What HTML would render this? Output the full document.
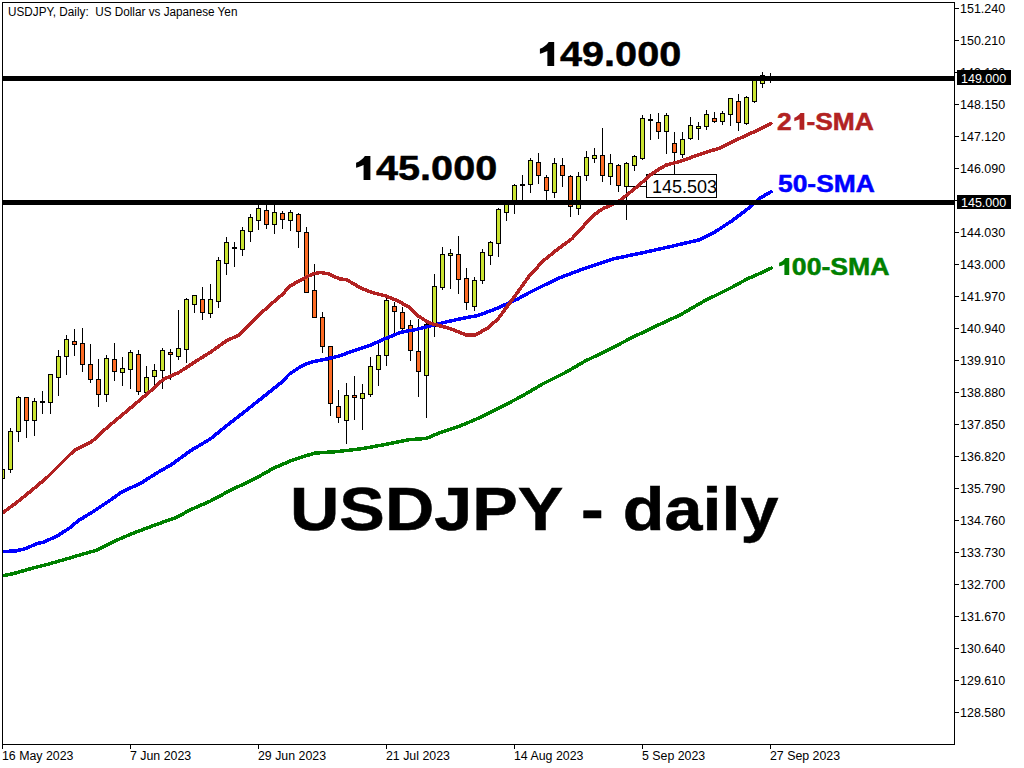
<!DOCTYPE html>
<html><head><meta charset="utf-8">
<style>
html,body{margin:0;padding:0;background:#fff;}
body{width:1024px;height:768px;position:relative;overflow:hidden;font-family:"Liberation Sans",sans-serif;}
.yl{position:absolute;left:960px;font-size:12px;line-height:16px;color:#000;white-space:nowrap;transform:scaleX(1.04);transform-origin:0 0;}
.xl{position:absolute;top:748px;font-size:12px;line-height:16px;color:#000;white-space:nowrap;transform:scaleX(1.03);transform-origin:0 0;}
.big{position:absolute;font-weight:bold;color:#000;white-space:nowrap;transform-origin:0 0;-webkit-text-stroke:0.5px currentColor;}
.h1{color:transparent;-webkit-text-stroke-color:transparent;}
.box{position:absolute;background:#000;color:#fff;font-size:12px;line-height:14px;height:14px;white-space:nowrap;}
</style></head><body>

<svg width="1024" height="768" viewBox="0 0 1024 768" style="position:absolute;left:0;top:0" shape-rendering="crispEdges">
<defs><clipPath id="cp"><rect x="3" y="3" width="951" height="741"/></clipPath></defs>
<rect x="2" y="2" width="953" height="743" fill="none" stroke="none"/>
<g clip-path="url(#cp)">
<rect x="2" y="466" width="1" height="15" fill="#000"/>
<rect x="0" y="469" width="5" height="10" fill="#000"/>
<rect x="1" y="470" width="3" height="8" fill="#c9e331"/>
<rect x="10" y="428" width="1" height="45" fill="#000"/>
<rect x="8" y="431" width="5" height="39" fill="#000"/>
<rect x="9" y="432" width="3" height="37" fill="#c9e331"/>
<rect x="18" y="396" width="1" height="46" fill="#000"/>
<rect x="16" y="397" width="5" height="35" fill="#000"/>
<rect x="17" y="398" width="3" height="33" fill="#c9e331"/>
<rect x="26" y="397" width="1" height="41" fill="#000"/>
<rect x="24" y="397" width="5" height="24" fill="#000"/>
<rect x="25" y="398" width="3" height="22" fill="#fc6b24"/>
<rect x="34" y="398" width="1" height="38" fill="#000"/>
<rect x="32" y="401" width="5" height="20" fill="#000"/>
<rect x="33" y="402" width="3" height="18" fill="#c9e331"/>
<rect x="42" y="391" width="1" height="23" fill="#000"/>
<rect x="40" y="401" width="5" height="2" fill="#000"/>
<rect x="50" y="374" width="1" height="40" fill="#000"/>
<rect x="48" y="374" width="5" height="29" fill="#000"/>
<rect x="49" y="375" width="3" height="27" fill="#c9e331"/>
<rect x="58" y="350" width="1" height="46" fill="#000"/>
<rect x="56" y="356" width="5" height="22" fill="#000"/>
<rect x="57" y="357" width="3" height="20" fill="#c9e331"/>
<rect x="66" y="335" width="1" height="40" fill="#000"/>
<rect x="64" y="339" width="5" height="18" fill="#000"/>
<rect x="65" y="340" width="3" height="16" fill="#c9e331"/>
<rect x="74" y="329" width="1" height="27" fill="#000"/>
<rect x="72" y="341" width="5" height="4" fill="#000"/>
<rect x="73" y="342" width="3" height="2" fill="#fc6b24"/>
<rect x="82" y="328" width="1" height="44" fill="#000"/>
<rect x="80" y="343" width="5" height="22" fill="#000"/>
<rect x="81" y="344" width="3" height="20" fill="#fc6b24"/>
<rect x="90" y="344" width="1" height="39" fill="#000"/>
<rect x="88" y="364" width="5" height="16" fill="#000"/>
<rect x="89" y="365" width="3" height="14" fill="#fc6b24"/>
<rect x="98" y="359" width="1" height="48" fill="#000"/>
<rect x="96" y="379" width="5" height="16" fill="#000"/>
<rect x="97" y="380" width="3" height="14" fill="#fc6b24"/>
<rect x="106" y="355" width="1" height="47" fill="#000"/>
<rect x="104" y="358" width="5" height="37" fill="#000"/>
<rect x="105" y="359" width="3" height="35" fill="#c9e331"/>
<rect x="114" y="343" width="1" height="38" fill="#000"/>
<rect x="112" y="359" width="5" height="13" fill="#000"/>
<rect x="113" y="360" width="3" height="11" fill="#fc6b24"/>
<rect x="122" y="357" width="1" height="29" fill="#000"/>
<rect x="120" y="368" width="5" height="5" fill="#000"/>
<rect x="121" y="369" width="3" height="3" fill="#c9e331"/>
<rect x="130" y="350" width="1" height="39" fill="#000"/>
<rect x="128" y="352" width="5" height="18" fill="#000"/>
<rect x="129" y="353" width="3" height="16" fill="#c9e331"/>
<rect x="138" y="350" width="1" height="45" fill="#000"/>
<rect x="136" y="354" width="5" height="38" fill="#000"/>
<rect x="137" y="355" width="3" height="36" fill="#fc6b24"/>
<rect x="146" y="366" width="1" height="31" fill="#000"/>
<rect x="144" y="377" width="5" height="16" fill="#000"/>
<rect x="145" y="378" width="3" height="14" fill="#c9e331"/>
<rect x="154" y="364" width="1" height="23" fill="#000"/>
<rect x="152" y="370" width="5" height="7" fill="#000"/>
<rect x="153" y="371" width="3" height="5" fill="#c9e331"/>
<rect x="162" y="348" width="1" height="41" fill="#000"/>
<rect x="160" y="350" width="5" height="21" fill="#000"/>
<rect x="161" y="351" width="3" height="19" fill="#c9e331"/>
<rect x="170" y="349" width="1" height="31" fill="#000"/>
<rect x="168" y="352" width="5" height="3" fill="#000"/>
<rect x="169" y="353" width="3" height="1" fill="#fc6b24"/>
<rect x="178" y="310" width="1" height="50" fill="#000"/>
<rect x="176" y="348" width="5" height="9" fill="#000"/>
<rect x="177" y="349" width="3" height="7" fill="#c9e331"/>
<rect x="186" y="298" width="1" height="65" fill="#000"/>
<rect x="184" y="299" width="5" height="51" fill="#000"/>
<rect x="185" y="300" width="3" height="49" fill="#c9e331"/>
<rect x="194" y="295" width="1" height="18" fill="#000"/>
<rect x="192" y="295" width="5" height="10" fill="#000"/>
<rect x="193" y="296" width="3" height="8" fill="#c9e331"/>
<rect x="202" y="287" width="1" height="33" fill="#000"/>
<rect x="200" y="299" width="5" height="14" fill="#000"/>
<rect x="201" y="300" width="3" height="12" fill="#fc6b24"/>
<rect x="210" y="284" width="1" height="34" fill="#000"/>
<rect x="208" y="299" width="5" height="15" fill="#000"/>
<rect x="209" y="300" width="3" height="13" fill="#c9e331"/>
<rect x="218" y="257" width="1" height="51" fill="#000"/>
<rect x="216" y="260" width="5" height="42" fill="#000"/>
<rect x="217" y="261" width="3" height="40" fill="#c9e331"/>
<rect x="226" y="237" width="1" height="38" fill="#000"/>
<rect x="224" y="242" width="5" height="22" fill="#000"/>
<rect x="225" y="243" width="3" height="20" fill="#c9e331"/>
<rect x="234" y="242" width="1" height="25" fill="#000"/>
<rect x="232" y="247" width="5" height="2" fill="#000"/>
<rect x="242" y="227" width="1" height="29" fill="#000"/>
<rect x="240" y="230" width="5" height="20" fill="#000"/>
<rect x="241" y="231" width="3" height="18" fill="#c9e331"/>
<rect x="250" y="214" width="1" height="28" fill="#000"/>
<rect x="248" y="217" width="5" height="15" fill="#000"/>
<rect x="249" y="218" width="3" height="13" fill="#c9e331"/>
<rect x="258" y="204" width="1" height="26" fill="#000"/>
<rect x="256" y="208" width="5" height="13" fill="#000"/>
<rect x="257" y="209" width="3" height="11" fill="#c9e331"/>
<rect x="266" y="200" width="1" height="29" fill="#000"/>
<rect x="264" y="210" width="5" height="15" fill="#000"/>
<rect x="265" y="211" width="3" height="13" fill="#fc6b24"/>
<rect x="274" y="200" width="1" height="34" fill="#000"/>
<rect x="272" y="212" width="5" height="13" fill="#000"/>
<rect x="273" y="213" width="3" height="11" fill="#c9e331"/>
<rect x="282" y="211" width="1" height="18" fill="#000"/>
<rect x="280" y="213" width="5" height="7" fill="#000"/>
<rect x="281" y="214" width="3" height="5" fill="#fc6b24"/>
<rect x="290" y="210" width="1" height="21" fill="#000"/>
<rect x="288" y="212" width="5" height="9" fill="#000"/>
<rect x="289" y="213" width="3" height="7" fill="#c9e331"/>
<rect x="298" y="213" width="1" height="35" fill="#000"/>
<rect x="296" y="214" width="5" height="18" fill="#000"/>
<rect x="297" y="215" width="3" height="16" fill="#fc6b24"/>
<rect x="306" y="227" width="1" height="66" fill="#000"/>
<rect x="304" y="232" width="5" height="61" fill="#000"/>
<rect x="305" y="233" width="3" height="59" fill="#fc6b24"/>
<rect x="314" y="264" width="1" height="54" fill="#000"/>
<rect x="312" y="290" width="5" height="28" fill="#000"/>
<rect x="313" y="291" width="3" height="26" fill="#fc6b24"/>
<rect x="322" y="312" width="1" height="41" fill="#000"/>
<rect x="320" y="317" width="5" height="30" fill="#000"/>
<rect x="321" y="318" width="3" height="28" fill="#fc6b24"/>
<rect x="330" y="346" width="1" height="70" fill="#000"/>
<rect x="328" y="346" width="5" height="58" fill="#000"/>
<rect x="329" y="347" width="3" height="56" fill="#fc6b24"/>
<rect x="338" y="390" width="1" height="33" fill="#000"/>
<rect x="336" y="406" width="5" height="12" fill="#000"/>
<rect x="337" y="407" width="3" height="10" fill="#fc6b24"/>
<rect x="346" y="383" width="1" height="61" fill="#000"/>
<rect x="344" y="395" width="5" height="26" fill="#000"/>
<rect x="345" y="396" width="3" height="24" fill="#c9e331"/>
<rect x="354" y="376" width="1" height="44" fill="#000"/>
<rect x="352" y="395" width="5" height="3" fill="#000"/>
<rect x="353" y="396" width="3" height="1" fill="#fc6b24"/>
<rect x="362" y="384" width="1" height="46" fill="#000"/>
<rect x="360" y="393" width="5" height="6" fill="#000"/>
<rect x="361" y="394" width="3" height="4" fill="#c9e331"/>
<rect x="370" y="357" width="1" height="40" fill="#000"/>
<rect x="368" y="366" width="5" height="29" fill="#000"/>
<rect x="369" y="367" width="3" height="27" fill="#c9e331"/>
<rect x="378" y="343" width="1" height="43" fill="#000"/>
<rect x="376" y="355" width="5" height="15" fill="#000"/>
<rect x="377" y="356" width="3" height="13" fill="#c9e331"/>
<rect x="386" y="298" width="1" height="68" fill="#000"/>
<rect x="384" y="300" width="5" height="56" fill="#000"/>
<rect x="385" y="301" width="3" height="54" fill="#c9e331"/>
<rect x="394" y="302" width="1" height="31" fill="#000"/>
<rect x="392" y="306" width="5" height="6" fill="#000"/>
<rect x="393" y="307" width="3" height="4" fill="#fc6b24"/>
<rect x="402" y="307" width="1" height="25" fill="#000"/>
<rect x="400" y="312" width="5" height="17" fill="#000"/>
<rect x="401" y="313" width="3" height="15" fill="#fc6b24"/>
<rect x="410" y="320" width="1" height="41" fill="#000"/>
<rect x="408" y="325" width="5" height="26" fill="#000"/>
<rect x="409" y="326" width="3" height="24" fill="#fc6b24"/>
<rect x="418" y="319" width="1" height="78" fill="#000"/>
<rect x="416" y="351" width="5" height="21" fill="#000"/>
<rect x="417" y="352" width="3" height="19" fill="#fc6b24"/>
<rect x="426" y="321" width="1" height="97" fill="#000"/>
<rect x="424" y="324" width="5" height="52" fill="#000"/>
<rect x="425" y="325" width="3" height="50" fill="#c9e331"/>
<rect x="434" y="274" width="1" height="63" fill="#000"/>
<rect x="432" y="286" width="5" height="41" fill="#000"/>
<rect x="433" y="287" width="3" height="39" fill="#c9e331"/>
<rect x="442" y="247" width="1" height="43" fill="#000"/>
<rect x="440" y="254" width="5" height="34" fill="#000"/>
<rect x="441" y="255" width="3" height="32" fill="#c9e331"/>
<rect x="450" y="249" width="1" height="40" fill="#000"/>
<rect x="448" y="253" width="5" height="3" fill="#000"/>
<rect x="449" y="254" width="3" height="1" fill="#c9e331"/>
<rect x="458" y="236" width="1" height="58" fill="#000"/>
<rect x="456" y="254" width="5" height="26" fill="#000"/>
<rect x="457" y="255" width="3" height="24" fill="#fc6b24"/>
<rect x="466" y="268" width="1" height="42" fill="#000"/>
<rect x="464" y="278" width="5" height="25" fill="#000"/>
<rect x="465" y="279" width="3" height="23" fill="#fc6b24"/>
<rect x="474" y="277" width="1" height="34" fill="#000"/>
<rect x="472" y="280" width="5" height="27" fill="#000"/>
<rect x="473" y="281" width="3" height="25" fill="#c9e331"/>
<rect x="482" y="249" width="1" height="35" fill="#000"/>
<rect x="480" y="252" width="5" height="29" fill="#000"/>
<rect x="481" y="253" width="3" height="27" fill="#c9e331"/>
<rect x="490" y="241" width="1" height="24" fill="#000"/>
<rect x="488" y="242" width="5" height="14" fill="#000"/>
<rect x="489" y="243" width="3" height="12" fill="#c9e331"/>
<rect x="498" y="208" width="1" height="49" fill="#000"/>
<rect x="496" y="209" width="5" height="35" fill="#000"/>
<rect x="497" y="210" width="3" height="33" fill="#c9e331"/>
<rect x="506" y="201" width="1" height="20" fill="#000"/>
<rect x="504" y="201" width="5" height="12" fill="#000"/>
<rect x="505" y="202" width="3" height="10" fill="#c9e331"/>
<rect x="514" y="184" width="1" height="30" fill="#000"/>
<rect x="512" y="185" width="5" height="20" fill="#000"/>
<rect x="513" y="186" width="3" height="18" fill="#c9e331"/>
<rect x="522" y="175" width="1" height="26" fill="#000"/>
<rect x="520" y="184" width="5" height="2" fill="#000"/>
<rect x="530" y="158" width="1" height="35" fill="#000"/>
<rect x="528" y="160" width="5" height="25" fill="#000"/>
<rect x="529" y="161" width="3" height="23" fill="#c9e331"/>
<rect x="538" y="153" width="1" height="31" fill="#000"/>
<rect x="536" y="162" width="5" height="14" fill="#000"/>
<rect x="537" y="163" width="3" height="12" fill="#fc6b24"/>
<rect x="546" y="175" width="1" height="27" fill="#000"/>
<rect x="544" y="177" width="5" height="14" fill="#000"/>
<rect x="545" y="178" width="3" height="12" fill="#fc6b24"/>
<rect x="554" y="158" width="1" height="40" fill="#000"/>
<rect x="552" y="163" width="5" height="30" fill="#000"/>
<rect x="553" y="164" width="3" height="28" fill="#c9e331"/>
<rect x="562" y="158" width="1" height="29" fill="#000"/>
<rect x="560" y="165" width="5" height="11" fill="#000"/>
<rect x="561" y="166" width="3" height="9" fill="#fc6b24"/>
<rect x="570" y="175" width="1" height="42" fill="#000"/>
<rect x="568" y="176" width="5" height="31" fill="#000"/>
<rect x="569" y="177" width="3" height="29" fill="#fc6b24"/>
<rect x="578" y="172" width="1" height="43" fill="#000"/>
<rect x="576" y="176" width="5" height="33" fill="#000"/>
<rect x="577" y="177" width="3" height="31" fill="#c9e331"/>
<rect x="586" y="151" width="1" height="30" fill="#000"/>
<rect x="584" y="157" width="5" height="19" fill="#000"/>
<rect x="585" y="158" width="3" height="17" fill="#c9e331"/>
<rect x="594" y="148" width="1" height="15" fill="#000"/>
<rect x="592" y="155" width="5" height="4" fill="#000"/>
<rect x="593" y="156" width="3" height="2" fill="#c9e331"/>
<rect x="602" y="128" width="1" height="54" fill="#000"/>
<rect x="600" y="155" width="5" height="21" fill="#000"/>
<rect x="601" y="156" width="3" height="19" fill="#fc6b24"/>
<rect x="610" y="154" width="1" height="31" fill="#000"/>
<rect x="608" y="163" width="5" height="14" fill="#000"/>
<rect x="609" y="164" width="3" height="12" fill="#c9e331"/>
<rect x="618" y="164" width="1" height="28" fill="#000"/>
<rect x="616" y="165" width="5" height="21" fill="#000"/>
<rect x="617" y="166" width="3" height="19" fill="#fc6b24"/>
<rect x="626" y="162" width="1" height="58" fill="#000"/>
<rect x="624" y="163" width="5" height="24" fill="#000"/>
<rect x="625" y="164" width="3" height="22" fill="#c9e331"/>
<rect x="634" y="155" width="1" height="16" fill="#000"/>
<rect x="632" y="156" width="5" height="10" fill="#000"/>
<rect x="633" y="157" width="3" height="8" fill="#c9e331"/>
<rect x="642" y="115" width="1" height="45" fill="#000"/>
<rect x="640" y="118" width="5" height="41" fill="#000"/>
<rect x="641" y="119" width="3" height="39" fill="#c9e331"/>
<rect x="650" y="114" width="1" height="26" fill="#000"/>
<rect x="648" y="119" width="5" height="2" fill="#000"/>
<rect x="658" y="113" width="1" height="26" fill="#000"/>
<rect x="656" y="122" width="5" height="10" fill="#000"/>
<rect x="657" y="123" width="3" height="8" fill="#fc6b24"/>
<rect x="666" y="113" width="1" height="41" fill="#000"/>
<rect x="664" y="115" width="5" height="17" fill="#000"/>
<rect x="665" y="116" width="3" height="15" fill="#c9e331"/>
<rect x="674" y="132" width="1" height="43" fill="#000"/>
<rect x="672" y="143" width="5" height="10" fill="#000"/>
<rect x="673" y="144" width="3" height="8" fill="#fc6b24"/>
<rect x="682" y="132" width="1" height="26" fill="#000"/>
<rect x="680" y="139" width="5" height="16" fill="#000"/>
<rect x="681" y="140" width="3" height="14" fill="#c9e331"/>
<rect x="690" y="117" width="1" height="23" fill="#000"/>
<rect x="688" y="125" width="5" height="14" fill="#000"/>
<rect x="689" y="126" width="3" height="12" fill="#c9e331"/>
<rect x="698" y="122" width="1" height="18" fill="#000"/>
<rect x="696" y="126" width="5" height="3" fill="#000"/>
<rect x="697" y="127" width="3" height="1" fill="#c9e331"/>
<rect x="706" y="110" width="1" height="20" fill="#000"/>
<rect x="704" y="114" width="5" height="13" fill="#000"/>
<rect x="705" y="115" width="3" height="11" fill="#c9e331"/>
<rect x="714" y="112" width="1" height="11" fill="#000"/>
<rect x="712" y="118" width="5" height="4" fill="#000"/>
<rect x="713" y="119" width="3" height="2" fill="#fc6b24"/>
<rect x="722" y="111" width="1" height="14" fill="#000"/>
<rect x="720" y="113" width="5" height="9" fill="#000"/>
<rect x="721" y="114" width="3" height="7" fill="#c9e331"/>
<rect x="730" y="98" width="1" height="28" fill="#000"/>
<rect x="728" y="98" width="5" height="17" fill="#000"/>
<rect x="729" y="99" width="3" height="15" fill="#c9e331"/>
<rect x="738" y="94" width="1" height="37" fill="#000"/>
<rect x="736" y="101" width="5" height="22" fill="#000"/>
<rect x="737" y="102" width="3" height="20" fill="#fc6b24"/>
<rect x="746" y="96" width="1" height="29" fill="#000"/>
<rect x="744" y="97" width="5" height="27" fill="#000"/>
<rect x="745" y="98" width="3" height="25" fill="#c9e331"/>
<rect x="754" y="78" width="1" height="25" fill="#000"/>
<rect x="752" y="78" width="5" height="24" fill="#000"/>
<rect x="753" y="79" width="3" height="22" fill="#c9e331"/>
<rect x="762" y="72" width="1" height="16" fill="#000"/>
<rect x="760" y="75" width="5" height="9" fill="#000"/>
<rect x="761" y="76" width="3" height="7" fill="#c9e331"/>
<rect x="770" y="73" width="1" height="10" fill="#000"/>
<rect x="768" y="78" width="5" height="2" fill="#000"/>
<rect x="628" y="186" width="18" height="1" fill="#000"/>
<rect x="646" y="174" width="71" height="24" fill="#fff" stroke="none"/>
<rect x="646" y="174" width="71" height="1" fill="#000"/>
<rect x="646" y="197" width="71" height="1" fill="#000"/>
<rect x="646" y="174" width="1" height="24" fill="#000"/>
<rect x="716" y="174" width="1" height="24" fill="#000"/>
<polyline points="2.6,575.3 13.0,573.2 31.2,568.0 46.9,564.0 65.1,558.9 78.1,555.0 96.4,549.7 114.6,540.6 132.8,532.8 153.6,525.0 177.0,516.7 190.0,509.5 210.3,500.6 230.6,489.7 253.5,479.0 273.8,467.6 291.6,460.0 314.4,452.6 337.3,451.1 362.7,448.1 388.0,443.5 408.4,439.3 426.2,437.9 440.0,432.2 463.4,424.2 482.2,416.0 500.9,406.6 522.0,395.6 543.1,383.2 564.2,372.7 585.3,360.5 608.7,349.2 632.2,337.0 655.6,325.8 680.0,314.5 706.2,299.4 715.6,295.0 731.2,287.2 746.9,278.6 759.4,273.1 771.1,267.7" fill="none" stroke="#008000" stroke-width="3.5" stroke-linejoin="round" stroke-linecap="round" transform="translate(0,0.5)"/>
<polyline points="2.6,551.0 15.6,550.5 26.0,548.0 36.5,543.2 44.3,541.4 57.3,535.4 70.3,527.0 78.1,520.3 93.8,510.7 109.4,500.3 122.4,491.1 140.6,482.8 156.2,472.9 171.9,463.8 190.8,450.0 210.3,438.5 225.9,425.8 244.2,411.5 262.4,397.1 280.6,382.5 289.4,373.6 298.9,367.3 305.0,363.7 313.0,361.2 327.5,358.3 340.0,355.2 351.2,351.1 369.5,345.1 385.1,338.2 400.7,331.8 416.4,328.9 432.0,325.0 447.6,321.1 465.8,317.2 477.5,315.2 496.2,308.2 517.3,298.7 528.7,292.4 557.3,278.2 586.0,267.4 614.6,258.1 643.3,252.1 672.0,245.7 700.0,239.2 715.6,231.0 731.2,220.8 746.9,209.1 759.4,198.1 771.1,191.1" fill="none" stroke="#0000ff" stroke-width="3.5" stroke-linejoin="round" stroke-linecap="round" transform="translate(0,0.5)"/>
<polyline points="2.6,512.3 16.1,502.5 31.3,490.2 47.4,476.6 62.6,461.4 74.5,449.6 91.1,441.7 106.8,427.3 122.4,414.3 139.3,400.0 150.4,390.6 163.4,378.8 179.0,371.9 194.7,361.5 210.3,351.8 225.9,340.6 239.0,334.5 252.0,321.3 267.6,306.6 283.2,293.2 289.1,286.2 296.9,281.6 304.7,277.4 312.5,273.6 320.4,272.0 328.2,273.2 340.0,278.6 346.0,278.9 361.7,288.0 372.0,292.0 385.1,295.2 398.1,300.5 408.5,306.4 419.0,316.0 429.4,322.5 439.8,325.3 449.4,327.8 465.8,334.4 475.2,334.6 489.2,326.6 498.6,317.6 514.3,296.3 528.7,276.2 543.0,260.5 557.3,249.0 571.7,238.4 586.0,222.8 595.0,213.8 600.0,210.0 604.7,207.2 610.2,205.2 619.5,200.4 631.2,191.0 640.6,183.3 650.0,174.7 659.4,168.4 666.4,164.5 678.1,161.5 686.3,158.7 700.6,153.5 720.7,147.3 737.9,138.7 758.0,129.5 770.9,122.9" fill="none" stroke="#b22222" stroke-width="3.5" stroke-linejoin="round" stroke-linecap="round" transform="translate(0,0.5)"/>
<rect x="3" y="76" width="951" height="5" fill="#000"/>
<rect x="3" y="200" width="951" height="5" fill="#000"/>
</g>
<rect x="2" y="2" width="953" height="1" fill="#000"/>
<rect x="2" y="744" width="953" height="1" fill="#000"/>
<rect x="2" y="2" width="1" height="747" fill="#000"/>
<rect x="954" y="2" width="1" height="743" fill="#000"/>
<rect x="2" y="745" width="1" height="4" fill="#000"/><rect x="130" y="745" width="1" height="4" fill="#000"/><rect x="258" y="745" width="1" height="4" fill="#000"/><rect x="386" y="745" width="1" height="4" fill="#000"/><rect x="514" y="745" width="1" height="4" fill="#000"/><rect x="642" y="745" width="1" height="4" fill="#000"/><rect x="770" y="745" width="1" height="4" fill="#000"/><rect x="955" y="8" width="4" height="1" fill="#000"/><rect x="955" y="40" width="4" height="1" fill="#000"/><rect x="955" y="72" width="4" height="1" fill="#000"/><rect x="955" y="104" width="4" height="1" fill="#000"/><rect x="955" y="136" width="4" height="1" fill="#000"/><rect x="955" y="168" width="4" height="1" fill="#000"/><rect x="955" y="200" width="4" height="1" fill="#000"/><rect x="955" y="232" width="4" height="1" fill="#000"/><rect x="955" y="264" width="4" height="1" fill="#000"/><rect x="955" y="296" width="4" height="1" fill="#000"/><rect x="955" y="328" width="4" height="1" fill="#000"/><rect x="955" y="360" width="4" height="1" fill="#000"/><rect x="955" y="392" width="4" height="1" fill="#000"/><rect x="955" y="424" width="4" height="1" fill="#000"/><rect x="955" y="456" width="4" height="1" fill="#000"/><rect x="955" y="488" width="4" height="1" fill="#000"/><rect x="955" y="520" width="4" height="1" fill="#000"/><rect x="955" y="552" width="4" height="1" fill="#000"/><rect x="955" y="584" width="4" height="1" fill="#000"/><rect x="955" y="616" width="4" height="1" fill="#000"/><rect x="955" y="648" width="4" height="1" fill="#000"/><rect x="955" y="680" width="4" height="1" fill="#000"/><rect x="955" y="712" width="4" height="1" fill="#000"/>
</svg>

<div class="xl" style="left:2px">16 May 2023</div><div class="xl" style="left:130px">7 Jun 2023</div><div class="xl" style="left:258px">29 Jun 2023</div><div class="xl" style="left:386px">21 Jul 2023</div><div class="xl" style="left:514px">14 Aug 2023</div><div class="xl" style="left:642px">5 Sep 2023</div><div class="xl" style="left:770px">27 Sep 2023</div><div class="yl" style="top:1px">151.240</div><div class="yl" style="top:33px">150.210</div><div class="yl" style="top:65px">149.180</div><div class="yl" style="top:97px">148.150</div><div class="yl" style="top:129px">147.120</div><div class="yl" style="top:161px">146.090</div><div class="yl" style="top:193px">145.060</div><div class="yl" style="top:225px">144.030</div><div class="yl" style="top:257px">143.000</div><div class="yl" style="top:289px">141.970</div><div class="yl" style="top:321px">140.940</div><div class="yl" style="top:353px">139.910</div><div class="yl" style="top:385px">138.880</div><div class="yl" style="top:417px">137.850</div><div class="yl" style="top:449px">136.820</div><div class="yl" style="top:481px">135.790</div><div class="yl" style="top:513px">134.760</div><div class="yl" style="top:545px">133.730</div><div class="yl" style="top:577px">132.700</div><div class="yl" style="top:609px">131.670</div><div class="yl" style="top:641px">130.640</div><div class="yl" style="top:673px">129.610</div><div class="yl" style="top:705px">128.580</div>
<div class="box" style="left:957px;top:70px;width:54px;height:15px;"></div><div class="yl" style="top:71px;left:961px;color:#fff">149.000</div>
<div class="box" style="left:957px;top:195px;width:54px;height:14px;"></div><div class="yl" style="top:195px;left:961px;color:#fff">145.000</div>
<div style="position:absolute;left:7.5px;top:4px;font-size:12px;line-height:16px;white-space:nowrap;transform:scaleX(0.978);transform-origin:0 0;">USDJPY, Daily:&nbsp; US Dollar vs Japanese Yen</div>
<div style="position:absolute;left:652px;top:176px;font-size:18px;line-height:22px;white-space:nowrap;">145.503</div>
<div class="big" id="t149" style="left:538px;top:34px;font-size:35.5px;line-height:40px;transform:scaleX(1.116)"><span class="h1">1</span>49.000</div>
<div class="big" id="t145" style="left:354px;top:148px;font-size:35.5px;line-height:40px;transform:scaleX(1.116)"><span class="h1">1</span>45.000</div>
<div class="big" id="tmain" style="left:290px;top:474px;font-size:60.5px;line-height:70px;transform:scaleX(1.129)">USDJPY - daily</div>
<div class="big" id="s21" style="left:777px;top:108px;font-size:24px;line-height:28px;color:#b22222;transform:scaleX(1.10)">2<span class="h1">1</span>-SMA</div>
<div class="big" id="s50" style="left:777.6px;top:170px;font-size:24px;line-height:28px;color:#0000ff;transform:scaleX(1.10)">50-SMA</div>
<div class="big" id="s100" style="left:777px;top:253px;font-size:24px;line-height:28px;color:#008000;transform:scaleX(1.11)"><span class="h1">1</span>00-SMA</div>
<svg width="1024" height="768" style="position:absolute;left:0;top:0"><path transform="translate(539.9,41.9) scale(24.1)" fill="#000" d="M0.365,0 L0.593,0 L0.593,1 L0.31,1 L0.31,0.38 C0.22,0.43 0.10,0.47 0,0.49 L0,0.28 C0.14,0.23 0.28,0.13 0.365,0 Z"/><path transform="translate(356.1,155.9) scale(24.1)" fill="#000" d="M0.365,0 L0.593,0 L0.593,1 L0.31,1 L0.31,0.38 C0.22,0.43 0.10,0.47 0,0.49 L0,0.28 C0.14,0.23 0.28,0.13 0.365,0 Z"/><path transform="translate(794.3,112.9) scale(16.9)" fill="#b22222" d="M0.365,0 L0.593,0 L0.593,1 L0.31,1 L0.31,0.38 C0.22,0.43 0.10,0.47 0,0.49 L0,0.28 C0.14,0.23 0.28,0.13 0.365,0 Z"/><path transform="translate(779.1,257.9) scale(17.1)" fill="#008000" d="M0.365,0 L0.593,0 L0.593,1 L0.31,1 L0.31,0.38 C0.22,0.43 0.10,0.47 0,0.49 L0,0.28 C0.14,0.23 0.28,0.13 0.365,0 Z"/></svg>
</body></html>
